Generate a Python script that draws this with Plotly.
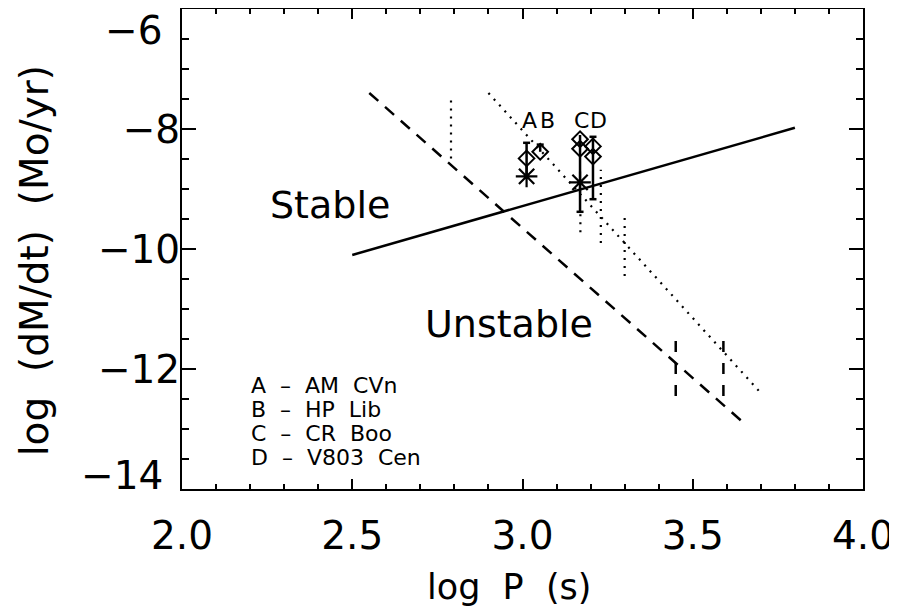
import plotly.graph_objects as go

# ---------------- data ----------------
solid_x = [2.5, 3.8]
solid_y = [-10.1, -7.98]

dash_x = [2.55, 3.65]
dash_y = [-7.4, -12.9]

dot_x = [2.90, 3.70]
dot_y = [-7.4, -12.4]

dash_vert_x = [3.45, 3.59]
dash_vert_lo = [-12.45, -12.45]
dash_vert_hi = [-11.5, -11.5]

dot_vert_x = [2.79, 3.17, 3.23, 3.30]
dot_vert_lo = [-8.49, -9.72, -9.90, -10.45]
dot_vert_hi = [-7.52, -9.42, -8.68, -9.48]

star_x = [3.012, 3.169]
star_y = [-8.79, -8.89]

diam_x = [3.012, 3.052, 3.169, 3.169, 3.207, 3.207]
diam_y = [-8.49, -8.38, -8.17, -8.33, -8.29, -8.46]

stem_x = [3.012, 3.052, 3.169, 3.207]
stem_lo = [-8.80, -8.38, -9.38, -9.17]
stem_hi = [-8.23, -8.26, -8.10, -8.13]

cap_x = [3.012, 3.052, 3.169, 3.207, 3.207]
cap_y = [-8.23, -8.26, -9.38, -8.13, -9.17]

letter_text = ["A", "B", "C", "D"]
letter_x = [3.022, 3.074, 3.173, 3.222]
letter_y = [-7.85, -7.85, -7.85, -7.85]

key_text = ["A  –  AM  CVn", "B  –  HP  Lib", "C  –  CR  Boo", "D  –  V803  Cen"]
key_x = 2.198
key_y = [-12.27, -12.68, -13.07, -13.48]

region_text = ["Stable", "Unstable"]
region_x = [2.434, 2.960]
region_y = [-9.27, -11.25]

x_ticks = [2.0, 2.5, 3.0, 3.5, 4.0]
y_ticks = [-14, -12, -10, -8, -6]
y_tick_text = ["", "−12", "−10", "−8", ""]
# end labels, drawn nudged inside the page as in the original
y_end_text = ["−6", "−14"]
y_end_pos = [-6.36, -13.78]

FONT = "DejaVu Sans"


def segs(xs, lo, hi):
    X, Y = [], []
    for x, a, b in zip(xs, lo, hi):
        X += [x, x, None]
        Y += [a, b, None]
    return X, Y


fig = go.Figure()

fig.add_trace(go.Scatter(x=solid_x, y=solid_y, mode="lines",
                         line=dict(color="black", width=2.5)))
fig.add_trace(go.Scatter(x=dash_x, y=dash_y, mode="lines",
                         line=dict(color="black", width=2.5, dash="12px,9px")))
fig.add_trace(go.Scatter(x=dot_x, y=dot_y, mode="lines",
                         line=dict(color="black", width=2.2, dash="2px,6px")))

dvx, dvy = segs(dash_vert_x, dash_vert_lo, dash_vert_hi)
fig.add_trace(go.Scatter(x=dvx, y=dvy, mode="lines",
                         line=dict(color="black", width=2.5, dash="11px,11px")))
tvx, tvy = segs(dot_vert_x, dot_vert_lo, dot_vert_hi)
fig.add_trace(go.Scatter(x=tvx, y=tvy, mode="lines",
                         line=dict(color="black", width=2.2, dash="2px,6px")))

sx, sy = segs(stem_x, stem_lo, stem_hi)
fig.add_trace(go.Scatter(x=sx, y=sy, mode="lines",
                         line=dict(color="black", width=2.5)))
fig.add_trace(go.Scatter(x=cap_x, y=cap_y, mode="markers",
                         marker=dict(symbol="line-ew", size=5,
                                     line=dict(color="black", width=2.5))))

fig.add_trace(go.Scatter(x=diam_x, y=diam_y, mode="markers",
                         marker=dict(symbol="diamond-open", size=12, color="black",
                                     line=dict(color="black", width=2))))
fig.add_trace(go.Scatter(x=star_x, y=star_y, mode="markers",
                         marker=dict(symbol="asterisk-open", size=18, color="black",
                                     line=dict(color="black", width=2.2))))

annotations = []
for t, x, y in zip(letter_text, letter_x, letter_y):
    annotations.append(dict(x=x, y=y, text=t, showarrow=False, xanchor="center",
                            font=dict(family=FONT, size=22, color="black")))
for t, y in zip(key_text, key_y):
    annotations.append(dict(x=key_x, y=y, text=t, showarrow=False, xanchor="left",
                            font=dict(family=FONT, size=22, color="black")))
for t, x, y in zip(region_text, region_x, region_y):
    annotations.append(dict(x=x, y=y, text=t, showarrow=False, xanchor="center",
                            font=dict(family=FONT, size=38, color="black")))
for t, y in zip(y_end_text, y_end_pos):
    annotations.append(dict(xref="paper", x=-0.025, y=y, text=t, showarrow=False,
                            xanchor="right", yanchor="middle",
                            font=dict(family=FONT, size=39, color="black")))

annotations.append(dict(xref="paper", yref="paper", x=0.481, y=-0.205,
                        text="log  P  (s)", showarrow=False,
                        xanchor="center", yanchor="middle",
                        font=dict(family=FONT, size=35, color="black")))
annotations.append(dict(xref="paper", yref="paper", x=-0.217, y=0.475,
                        text="log  (dM/dt)  (Mo/yr)", showarrow=False, textangle=-90,
                        xanchor="center", yanchor="middle",
                        font=dict(family=FONT, size=39, color="black")))

axis_common = dict(showgrid=False, zeroline=False, showline=True, linecolor="black",
                   linewidth=2, mirror="ticks", ticks="inside", tickcolor="black",
                   tickwidth=2, automargin=False,
                   tickfont=dict(family=FONT, size=39, color="black"))

# the page body adds an 8 px offset, so margins are shifted by 8 px
fig.update_layout(
    width=897, height=613,
    margin=dict(l=174, r=42, t=1, b=132, autoexpand=False),
    paper_bgcolor="white", plot_bgcolor="white",
    showlegend=False,
    annotations=annotations,
    xaxis=dict(range=[2, 4], tickvals=x_ticks, ticktext=[f"{v:.1f}" for v in x_ticks],
               ticklen=10, ticklabelstandoff=11,
               minor=dict(dtick=0.1, ticklen=5, tickwidth=2, tickcolor="black", ticks="inside"),
               **axis_common),
    yaxis=dict(range=[-14, -6], tickvals=y_ticks, ticktext=y_tick_text,
               ticklen=14, ticklabelstandoff=-8,
               minor=dict(dtick=0.5, ticklen=7, tickwidth=2, tickcolor="black", ticks="inside"),
               **axis_common),
)

fig.write_html("out.html")
